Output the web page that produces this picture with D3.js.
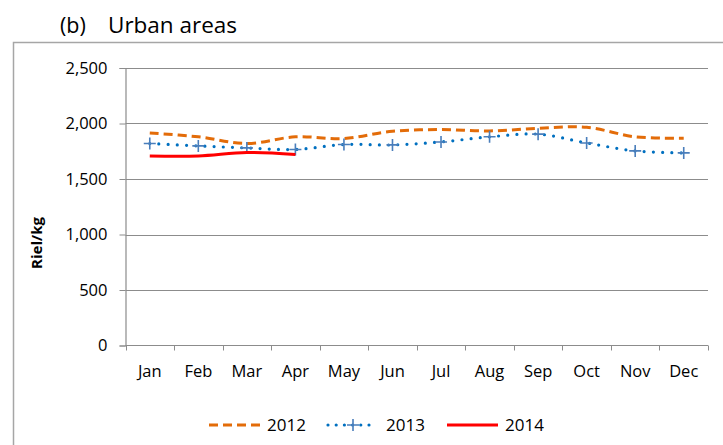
<!DOCTYPE html>
<html>
<head>
<meta charset="utf-8">
<script src="https://cdn.jsdelivr.net/npm/d3@7"></script>
<style>
  body { margin: 0; background: #fff; }
  svg { display: block; }
</style>
</head>
<body>
<svg id="chart" width="723" height="445"></svg>
<script>
    var months = ["Jan", "Feb", "Mar", "Apr", "May", "Jun", "Jul", "Aug", "Sep", "Oct", "Nov", "Dec"];
    var yTicks = [0, 500, 1000, 1500, 2000, 2500];
    var price2012 = [1915, 1880, 1820, 1880, 1865, 1930, 1945, 1933, 1957, 1966, 1880, 1868];
    var price2013 = [1820, 1798, 1780, 1766, 1811, 1807, 1834, 1880, 1904, 1825, 1753, 1735];
    var price2014 = [1708, 1708, 1739, 1721];

    var font = "'Open Sans', sans-serif";
    var svg = d3.select("#chart");

    // outer chart frame
    svg.append("path")
        .attr("d", "M13.5,445 L13.5,42.5 L723,42.5")
        .attr("fill", "none")
        .attr("stroke", "#a6a6a6")
        .attr("stroke-width", 1.5);

    svg.append("text")
        .attr("x", 60)
        .attr("y", 33)
        .attr("font-family", font)
        .attr("font-size", "21.5px")
        .text("(b)");
    svg.append("text")
        .attr("x", 108)
        .attr("y", 33)
        .attr("font-family", font)
        .attr("font-size", "22.5px")
        .text("Urban areas");

    var x = d3.scaleBand().domain(months).range([125.5, 708]);
    var y = d3.scaleLinear().domain([0, 2500]).range([345.5, 68]);

    // gridlines
    svg.append("g").selectAll("line")
        .data(yTicks.slice(1))
        .enter()
        .append("line")
        .attr("x1", 125.5)
        .attr("x2", 708)
        .attr("y1", function (d) { return Math.round(y(d)) + 0.5; })
        .attr("y2", function (d) { return Math.round(y(d)) + 0.5; })
        .attr("stroke", "#8c8c8c")
        .attr("stroke-width", 1);

    var yAxis = svg.append("g")
        .attr("transform", "translate(125.5,0)")
        .call(d3.axisLeft(y).tickValues(yTicks).tickSize(6).tickPadding(12).tickFormat(d3.format(",")));
    var xAxis = svg.append("g")
        .attr("transform", "translate(0,345.5)")
        .call(d3.axisBottom(x).tickSize(0).tickPadding(20));

    // x tick marks at band edges
    xAxis.selectAll(".edge")
        .data(months.map(function (m) { return x(m); }).concat([708]))
        .enter()
        .append("line")
        .attr("x1", function (d) { return Math.round(d) + 0.5; })
        .attr("x2", function (d) { return Math.round(d) + 0.5; })
        .attr("y1", 0)
        .attr("y2", 5)
        .attr("stroke", "#8c8c8c");

    [yAxis, xAxis].forEach(function (g) {
        g.select(".domain").attr("stroke", "#8c8c8c").attr("stroke-width", 1.2);
        g.selectAll(".tick line").attr("stroke", "#8c8c8c");
        g.selectAll("text")
            .attr("font-family", font)
            .attr("font-size", "16.5px")
            .attr("fill", "#000");
    });
    xAxis.select(".domain").attr("d", "M125.5,0H708");

    svg.append("text")
        .attr("transform", "translate(42,243) rotate(-90)")
        .attr("text-anchor", "middle")
        .attr("font-family", font)
        .attr("font-size", "15px")
        .attr("font-weight", "bold")
        .text("Riel/kg");

    var cx = function (i) { return x(months[i]) + x.bandwidth() / 2; };
    var line = d3.line()
        .x(function (d, i) { return cx(i); })
        .y(function (d) { return y(d); })
        .curve(d3.curveCatmullRom.alpha(0.5));

    svg.append("path")
        .datum(price2012)
        .attr("d", line)
        .attr("fill", "none")
        .attr("stroke", "#E36C09")
        .attr("stroke-width", 3)
        .attr("stroke-dasharray", "9,5");

    svg.append("path")
        .datum(price2013)
        .attr("d", line)
        .attr("fill", "none")
        .attr("stroke", "#0070C0")
        .attr("stroke-width", 3.2)
        .attr("stroke-linecap", "round")
        .attr("stroke-dasharray", "0,9.2");

    var plus = function (g, px, py) {
        g.append("path")
            .attr("d", "M" + (px - 6) + "," + py + "H" + (px + 6) + "M" + px + "," + (py - 6) + "V" + (py + 6))
            .attr("stroke", "#4a7ebb")
            .attr("stroke-width", 1.6)
            .attr("fill", "none");
    };
    var markers = svg.append("g");
    price2013.forEach(function (d, i) { plus(markers, cx(i), y(d)); });

    svg.append("path")
        .datum(price2014)
        .attr("d", line)
        .attr("fill", "none")
        .attr("stroke", "#FF0000")
        .attr("stroke-width", 3);

    // legend
    var legend = svg.append("g");
    legend.append("line").attr("x1", 209).attr("x2", 261).attr("y1", 425).attr("y2", 425)
        .attr("stroke", "#E36C09").attr("stroke-width", 3).attr("stroke-dasharray", "9,5");
    legend.append("line").attr("x1", 328).attr("x2", 377).attr("y1", 425).attr("y2", 425)
        .attr("stroke", "#0070C0").attr("stroke-width", 3.2).attr("stroke-linecap", "round")
        .attr("stroke-dasharray", "0,8.2");
    plus(legend, 353, 425);
    legend.append("line").attr("x1", 447).attr("x2", 498).attr("y1", 425).attr("y2", 425)
        .attr("stroke", "#FF0000").attr("stroke-width", 3);
    [["2012", 267], ["2013", 386], ["2014", 505]].forEach(function (d) {
        legend.append("text")
            .attr("x", d[1])
            .attr("y", 431)
            .attr("font-family", font)
            .attr("font-size", "17px")
            .text(d[0]);
    });
</script>
</body>
</html>
